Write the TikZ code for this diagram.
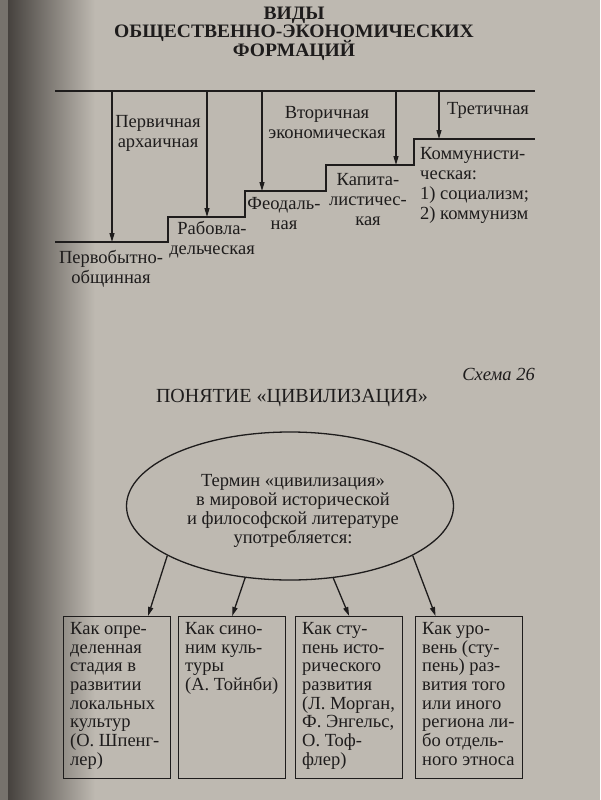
\documentclass[tikz,border=0pt]{standalone}
\usepackage{fontspec}
\setmainfont{Liberation Serif}
\usetikzlibrary{arrows.meta,shapes.geometric,calc}
\definecolor{paper}{RGB}{190,185,177}
\definecolor{shade}{RGB}{70,66,62}
\definecolor{ink}{RGB}{30,28,28}
\begin{document}
\begin{tikzpicture}[x=1pt,y=-1pt,
  ln/.style={draw=ink,line width=1.3pt},
  arr/.style={ln,-{Triangle[length=9pt,width=5pt]}},
  lbl/.style={font=\fontsize{18.5}{20}\selectfont,align=center,inner sep=0pt,text=ink},
  ttl/.style={font={\fontsize{19}{18.5}\selectfont\bfseries\addfontfeature{FakeStretch=1.03}\lineskiplimit=-20pt},align=center,inner sep=0pt,text=ink},
  boxst/.style={ln,rectangle,anchor=north west,minimum width=107pt,minimum height=162pt,inner sep=0pt},
  boxtxt/.style={font=\fontsize{18.5}{18.7}\selectfont,align=left,anchor=north west,inner sep=0pt,text=ink,xshift=7pt,yshift=-6pt},
  ell/.style={ln,ellipse,minimum width=327pt,minimum height=148pt,inner sep=0pt}]
% background
\fill[paper] (0,0) rectangle (600,800);
\shade[left color=shade,right color=paper] (8,0) rectangle (95,800);
\fill[shade!60!paper] (0,0) rectangle (8,800);
\useasboundingbox (0,0) rectangle (600,800);

% ---------- Part 1 ----------
\node[ttl] (title1) at (294,33.5) {ВИДЫ\\ОБЩЕСТВЕННО-ЭКОНОМИЧЕСКИХ\\ФОРМАЦИЙ};

\coordinate (topL) at (55,91);
\coordinate (topR) at (535,91);
\draw[ln] (topL) -- (topR);

\coordinate (s0) at (55,242);
\coordinate (s1) at (168,242);
\coordinate (s1u) at (168,217);
\coordinate (s2) at (245,217);
\coordinate (s2u) at (245,191);
\coordinate (s3) at (326,191);
\coordinate (s3u) at (326,165);
\coordinate (s4) at (414,165);
\coordinate (s4u) at (414,139);
\coordinate (s5) at (535,139);
\draw[ln] (s0) -- (s1) -- (s1u) -- (s2) -- (s2u) -- (s3) -- (s3u) -- (s4) -- (s4u) -- (s5);

\coordinate (a1t) at (112,91);  \coordinate (a1b) at (112,242);
\coordinate (a2t) at (207,91);  \coordinate (a2b) at (207,217);
\coordinate (a3t) at (262,91);  \coordinate (a3b) at (262,191);
\coordinate (a4t) at (396,91);  \coordinate (a4b) at (396,165);
\coordinate (a5t) at (439,91);  \coordinate (a5b) at (439,139);
\draw[arr] (a1t) -- (a1b);
\draw[arr] (a2t) -- (a2b);
\draw[arr] (a3t) -- (a3b);
\draw[arr] (a4t) -- (a4b);
\draw[arr] (a5t) -- (a5b);

\node[lbl] (prim) at (158,133) {Первичная\\архаичная};
\node[lbl] (sec) at (327,123) {Вторичная\\экономическая};
\node[lbl] (tert) at (488,110) {Третичная};
\node[lbl] (f1) at (111,268.5) {Первобытно-\\общинная};
\node[lbl] (f2) at (212,239.5) {Рабовла-\\дельческая};
\node[lbl] (f3) at (284,214) {Феодаль-\\ная};
\node[lbl] (f4) at (368,200) {Капита-\\листичес-\\кая};
\node[lbl,align=left,anchor=west] (f5) at (420,185) {Коммунисти-\\ческая:\\1) социализм;\\2) коммунизм};

% ---------- Part 2 ----------
\node[lbl,anchor=east,font=\fontsize{18.5}{20}\selectfont\itshape] (schema) at (535,374) {Схема 26};
\node[lbl,font=\fontsize{20}{22}\selectfont] (title2) at (292,398) {ПОНЯТИЕ «ЦИВИЛИЗАЦИЯ»};

\node[ell] (el) at (290,506) {};
\node[lbl,font=\fontsize{18.5}{19}\selectfont] (elt) at (293,511) {Термин «цивилизация»\\в мировой исторической\\и философской литературе\\употребляется:};

\node[boxst] (b1) at (63,616) {};
\node[boxst] (b2) at (178,616) {};
\node[boxst] (b3) at (295,616) {};
\node[boxst] (b4) at (415,616) {};

\node[boxtxt] (t1) at (b1.north west) {Как опре-\\деленная\\стадия в\\развитии\\локальных\\культур\\(О. Шпенг-\\лер)};
\node[boxtxt] (t2) at (b2.north west) {Как сино-\\ним куль-\\туры\\(А. Тойнби)};
\node[boxtxt] (t3) at (b3.north west) {Как сту-\\пень исто-\\рического\\развития\\(Л. Морган,\\Ф. Энгельс,\\О. Тоф-\\флер)};
\node[boxtxt] (t4) at (b4.north west) {Как уро-\\вень (сту-\\пень) раз-\\вития того\\или иного\\региона ли-\\бо отдель-\\ного этноса};

\draw[arr] (el.202) -- ($(b1.north west)!0.785!(b1.north east)$);
\draw[arr] (el.238) -- (b2.north);
\draw[arr] (el.301) -- (b3.north);
\draw[arr] (el.338) -- ($(b4.north west)!0.19!(b4.north east)$);
\end{tikzpicture}
\end{document}
